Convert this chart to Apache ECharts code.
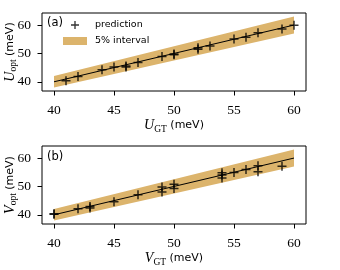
<!DOCTYPE html>
<html><head><meta charset="utf-8">
<script src="https://cdn.jsdelivr.net/npm/echarts@6/dist/echarts.min.js"></script>
<style>html,body{margin:0;padding:0;background:#fff}#c{width:340px;height:270px}</style>
</head><body><div id="c"></div>
<script>
// ---- data ----
var xTicks = [40, 45, 50, 55, 60];
var yTicks = [40, 50, 60];
var bandX = [40, 60];
var bandLower = [38, 57];
var bandUpper = [42, 63];
var idealX = [40, 60];
var idealY = [40, 60];
var uGT  = [41, 42, 44, 45, 46, 46, 47, 49, 50, 50, 52, 52, 53, 55, 56, 57, 59, 60];
var uOpt = [40.4, 41.9, 44.2, 45.2, 45.2, 45.6, 46.8, 48.9, 49.5, 49.8, 51.5, 52.0, 52.6, 55.1, 55.7, 57.3, 58.6, 59.9];
var vGT  = [40, 40, 42, 43, 43, 45, 47, 49, 49, 50, 50, 54, 54, 54, 55, 56, 57, 57, 59];
var vOpt = [40.2, 40.4, 42.1, 42.4, 42.9, 44.6, 47.1, 48.0, 49.8, 49.3, 50.8, 53.0, 54.0, 54.8, 54.9, 56.0, 55.2, 57.3, 57.1];

var PLUS = 'path://M2.5,0h1v2.5h2.5v1h-2.5v2.5h-1v-2.5h-2.5v-1h2.5z';
var BAND = '#dcb46c';
var SERIF = 'Liberation Serif';
var SANS = 'DejaVu Sans';

function pairs(xs, ys) { return xs.map(function (x, i) { return [x, ys[i]]; }); }

function bandSeries(idx) {
  return {
    type: 'custom', xAxisIndex: idx, yAxisIndex: idx, name: '5% interval',
    renderItem: function (params, api) {
      if (params.dataIndex !== 0) return null;
      var pts = [];
      for (var i = 0; i < bandX.length; i++) pts.push(api.coord([bandX[i], bandLower[i]]));
      for (var j = bandX.length - 1; j >= 0; j--) pts.push(api.coord([bandX[j], bandUpper[j]]));
      return { type: 'polygon', shape: { points: pts }, style: { fill: BAND } };
    },
    itemStyle: { color: BAND },
    data: bandX.map(function (x, i) { return [x, bandLower[i], bandUpper[i]]; }),
    silent: true, z: 1
  };
}
function lineSeries(idx) {
  return { type: 'line', xAxisIndex: idx, yAxisIndex: idx, data: pairs(idealX, idealY),
    symbol: 'none', lineStyle: { color: '#000', width: 1 }, silent: true, z: 2 };
}
function scatterSeries(idx, xs, ys) {
  return { type: 'scatter', name: 'prediction', xAxisIndex: idx, yAxisIndex: idx, data: pairs(xs, ys),
    symbol: PLUS, symbolSize: 9, itemStyle: { color: '#000' }, z: 3 };
}
function nameRich() {
  return {
    i: { fontFamily: SERIF, fontStyle: 'italic', fontSize: 14, fill: '#000', color: '#000', lineHeight: 17, verticalAlign: 'middle' },
    s: { fontFamily: SERIF, fontSize: 9.5, fill: '#000', color: '#000', lineHeight: 9, verticalAlign: 'bottom' },
    t: { fontFamily: SANS, fontSize: 11, fill: '#000', color: '#000', lineHeight: 17, verticalAlign: 'middle' }
  };
}

function xAxis(idx, main, sub) {
  return {
    type: 'value', gridIndex: idx, min: 39, max: 61,
    axisLine: { show: false },
    axisTick: { show: true, length: 4.5, lineStyle: { color: '#000', width: 1 }, customValues: xTicks },
    axisLabel: { color: '#000', fontFamily: SERIF, fontSize: 13.5, margin: 12, customValues: xTicks },
    splitLine: { show: false },
    name: '{i|' + main + '}{s|' + sub + '}{t| (meV)}',
    nameLocation: 'middle', nameGap: 26,
    nameTextStyle: { rich: nameRich() }
  };
}
function yAxis(idx) {
  return {
    type: 'value', gridIndex: idx, min: 36.75, max: 64.25,
    axisLine: { show: false },
    axisTick: { show: true, length: 4.5, lineStyle: { color: '#000', width: 1 }, customValues: yTicks },
    axisLabel: { color: '#000', fontFamily: SERIF, fontSize: 13.5, margin: 11, customValues: yTicks },
    splitLine: { show: false }
  };
}
function yName(main, sub, cy) {
  return { type: 'text', x: 10, y: cy, rotation: Math.PI / 2,
    style: { text: '{i|' + main + '}{s|' + sub + '}{t| (meV)}', align: 'center', verticalAlign: 'middle', rich: nameRich() } };
}

var chart = echarts.init(document.getElementById('c'), null, { renderer: 'canvas' });
chart.setOption({
  animation: false,
  backgroundColor: '#fff',
  grid: [
    { left: 42, right: 34, top: 13, height: 78, show: true, borderColor: '#000', borderWidth: 1, backgroundColor: 'transparent', outerBoundsMode: 'none', containLabel: false },
    { left: 42, right: 34, top: 146, height: 78, show: true, borderColor: '#000', borderWidth: 1, backgroundColor: 'transparent', outerBoundsMode: 'none', containLabel: false }
  ],
  xAxis: [xAxis(0, 'U', 'GT'), xAxis(1, 'V', 'GT')],
  yAxis: [yAxis(0), yAxis(1)],
  legend: {
    orient: 'vertical', left: 58, top: 15, itemWidth: 24, itemHeight: 8, itemGap: 6,
    symbolKeepAspect: true, selectedMode: false,
    textStyle: { fontFamily: SANS, fontSize: 9.5, color: '#000', padding: [0, 0, 0, 3] },
    data: [
      { name: 'prediction', icon: PLUS, itemStyle: { color: '#000' } },
      { name: '5% interval', icon: 'rect', itemStyle: { color: BAND } }
    ]
  },
  graphic: [
    { type: 'text', left: 47, top: 17, style: { text: '(a)', font: '11.5px "DejaVu Sans"', fill: '#000' } },
    { type: 'text', left: 47, top: 151, style: { text: '(b)', font: '11.5px "DejaVu Sans"', fill: '#000' } },
    yName('U', 'opt', 52),
    yName('V', 'opt', 185)
  ],
  series: [
    bandSeries(0), lineSeries(0), scatterSeries(0, uGT, uOpt),
    bandSeries(1), lineSeries(1), scatterSeries(1, vGT, vOpt)
  ]
});
</script></body></html>
